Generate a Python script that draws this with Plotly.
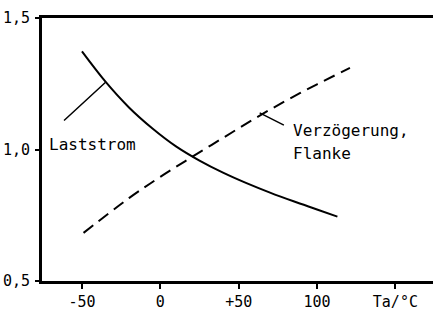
import plotly.graph_objects as go

# Data
laststrom_x = [-50, -35, -20, -5, 10, 25, 40, 55, 70, 85, 100, 113]
laststrom_y = [1.373, 1.258, 1.160, 1.080, 1.012, 0.958, 0.912, 0.872, 0.836, 0.803, 0.772, 0.745]

verz_x = [-49, -20, 0, 20, 40, 60, 80, 100, 121]
verz_y = [0.683, 0.815, 0.896, 0.971, 1.044, 1.117, 1.185, 1.248, 1.310]

x_tickvals = [-50, 0, 50, 100, 150]
x_ticktext = ["-50", "0", "+50", "100", "Ta/°C"]
y_tickvals = [0.5, 1.0, 1.5]
y_ticktext = ["0,5", "1,0", "1,5"]

FONT = "DejaVu Sans Mono"

fig = go.Figure()
fig.add_trace(go.Scatter(x=laststrom_x, y=laststrom_y, mode="lines",
                         line=dict(color="black", width=2, shape="spline", smoothing=1.0),
                         showlegend=False, hoverinfo="skip"))
fig.add_trace(go.Scatter(x=verz_x, y=verz_y, mode="lines",
                         line=dict(color="black", width=2, shape="spline", dash="12px,7px"),
                         showlegend=False, hoverinfo="skip"))

# Leader lines
fig.add_annotation(x=-35.1, y=1.255, ax=-62.4, ay=1.105, axref="x", ayref="y",
                   xref="x", yref="y", text="", showarrow=True, arrowhead=0,
                   arrowwidth=1.5, arrowcolor="black", standoff=0, startstandoff=0)
fig.add_annotation(x=63.4, y=1.139, ax=79.8, ay=1.090, axref="x", ayref="y",
                   xref="x", yref="y", text="", showarrow=True, arrowhead=0,
                   arrowwidth=1.5, arrowcolor="black", standoff=0, startstandoff=0)

# Labels
lab_font = dict(family=FONT, size=16, color="black")
fig.add_annotation(x=-72.3, y=1.020, text="Laststrom", showarrow=False,
                   xanchor="left", yanchor="middle", font=lab_font)
fig.add_annotation(x=83.4, y=1.073, text="Verzögerung,", showarrow=False,
                   xanchor="left", yanchor="middle", font=lab_font)
fig.add_annotation(x=83.4, y=0.985, text="Flanke", showarrow=False,
                   xanchor="left", yanchor="middle", font=lab_font)

fig.update_layout(
    width=433, height=311,
    margin=dict(l=42, r=0, t=18, b=30, autoexpand=False),
    paper_bgcolor="white", plot_bgcolor="white",
    font=dict(family=FONT, size=15, color="black"),
    xaxis=dict(range=[-75.5, 174.0], tickvals=x_tickvals, ticktext=x_ticktext,
               showgrid=False, zeroline=False, showline=True, linecolor="black",
               linewidth=3, mirror=True, ticks="outside", ticklen=5, tickwidth=2,
               tickcolor="black", ticklabelstandoff=0, automargin=False,
               tickfont=dict(family=FONT, size=15, color="black")),
    yaxis=dict(range=[0.5, 1.5], tickvals=y_tickvals, ticktext=y_ticktext,
               showgrid=False, zeroline=False, showline=True, linecolor="black",
               linewidth=3, ticks="outside", ticklen=4, tickwidth=2,
               tickcolor="black", ticklabelstandoff=2, automargin=False,
               tickfont=dict(family=FONT, size=15, color="black")),
)

# remove the browser's default 8px body margin so the figure fills the window
fig.write_html("out.html", config={"displayModeBar": False},
               post_script="document.body.style.margin='0px';")
